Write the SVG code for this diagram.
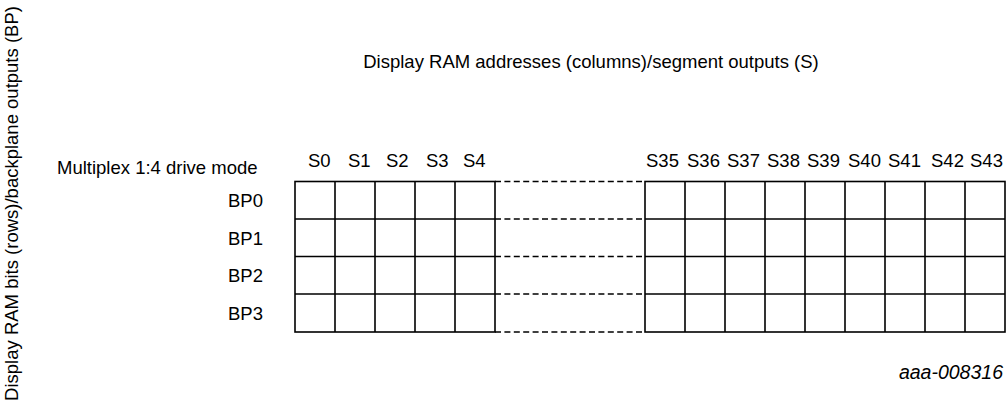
<svg xmlns="http://www.w3.org/2000/svg" width="1007" height="407" viewBox="0 0 1007 407">
<style>
text{font-family:"Liberation Sans",Arial,sans-serif;font-size:18.5px;fill:#000}
.g{fill:none;stroke:#000;stroke-width:1.6}
.d{fill:none;stroke:#000;stroke-width:1.6;stroke-dasharray:6 3.4}
.code{font-style:italic;font-size:19.5px}
</style>
<rect width="1007" height="407" fill="#fff"/>
<g id="axis-rows"><text transform="translate(18,203.5) rotate(-90)" text-anchor="middle">Display RAM bits (rows)/backplane outputs (BP)</text></g>
<g id="axis-cols"><text x="591" y="67.5" text-anchor="middle">Display RAM addresses (columns)/segment outputs (S)</text></g>
<g id="mode"><text x="57" y="174">Multiplex 1:4 drive mode</text></g>
<g id="row-labels" text-anchor="end">
<text x="263" y="207">BP0</text>
<text x="263" y="244.5">BP1</text>
<text x="263" y="282">BP2</text>
<text x="263" y="319.5">BP3</text>
</g>
<g id="col-labels">
<text x="308" y="167">S0</text>
<text x="348" y="167">S1</text>
<text x="386" y="167">S2</text>
<text x="426" y="167">S3</text>
<text x="463" y="167">S4</text>
<text x="646" y="167">S35</text>
<text x="687" y="167">S36</text>
<text x="727" y="167">S37</text>
<text x="767" y="167">S38</text>
<text x="807" y="167">S39</text>
<text x="848" y="167">S40</text>
<text x="888" y="167">S41</text>
<text x="931" y="167">S42</text>
<text x="970" y="167">S43</text>
</g>
<g id="grid-left">
<rect x="295" y="181.5" width="200" height="150.5" class="g"/>
<path class="g" d="M295 219H495M295 256.5H495M295 294H495M335 181.5V332M375 181.5V332M415 181.5V332M455 181.5V332"/>
</g>
<g id="grid-right">
<rect x="645" y="181.5" width="360" height="150.5" class="g"/>
<path class="g" d="M645 219H1005M645 256.5H1005M645 294H1005M685 181.5V332M725 181.5V332M765 181.5V332M805 181.5V332M845 181.5V332M885 181.5V332M925 181.5V332M965 181.5V332"/>
</g>
<g id="connectors">
<path class="d" d="M495 181.5H645M495 219H645M495 256.5H645M495 294H645M495 332H645"/>
</g>
<g id="code"><text class="code" x="1003" y="379" text-anchor="end">aaa-008316</text></g>
</svg>
